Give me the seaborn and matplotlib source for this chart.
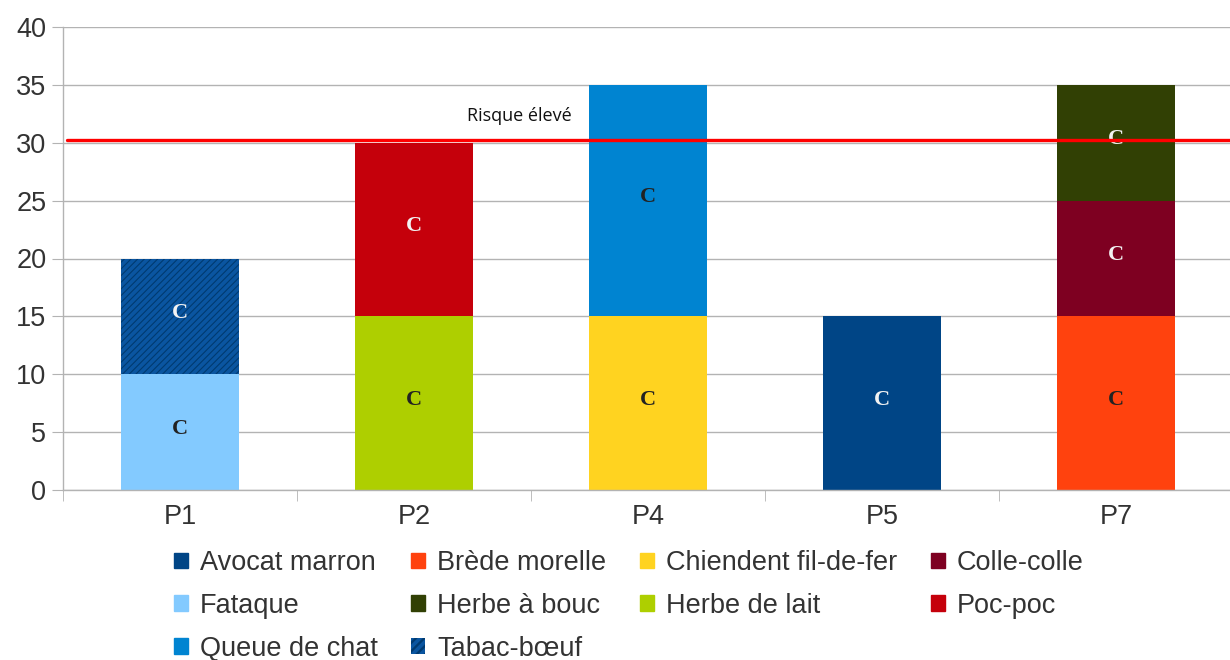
import pandas as pd
import matplotlib.pyplot as plt
import seaborn as sns
from matplotlib.patches import Patch

# categories and legend entries
plots = ['P1', 'P2', 'P4', 'P5', 'P7']
species = ['Avocat marron', 'Brède morelle', 'Chiendent fil-de-fer', 'Colle-colle',
           'Fataque', 'Herbe à bouc', 'Herbe de lait', 'Poc-poc',
           'Queue de chat', 'Tabac-bœuf']
species_colors = ['#004586', '#ff420e', '#ffd320', '#7e0021',
                  '#83caff', '#314004', '#aecf00', '#c5000b',
                  '#0084d1', '#003a70']

# stacked segments, listed bottom to top for each plot
seg_plot = ['P1', 'P1', 'P2', 'P2', 'P4', 'P4', 'P5', 'P7', 'P7', 'P7']
seg_species = ['Fataque', 'Tabac-bœuf', 'Herbe de lait', 'Poc-poc',
               'Chiendent fil-de-fer', 'Queue de chat', 'Avocat marron',
               'Brède morelle', 'Colle-colle', 'Herbe à bouc']
seg_value = [10, 10, 15, 15, 15, 20, 15, 15, 10, 10]
seg_label = ['C'] * 10

threshold = 30.2
threshold_label = 'Risque élevé'

dark_species = {'Tabac-bœuf', 'Poc-poc', 'Avocat marron', 'Colle-colle', 'Herbe à bouc'}
color_map = dict(zip(species, species_colors))

df = pd.DataFrame({'plot': seg_plot, 'species': seg_species, 'value': seg_value, 'label': seg_label})
df['bottom'] = df.groupby('plot')['value'].cumsum() - df['value']
df['top'] = df['bottom'] + df['value']
df['level'] = df.groupby('plot').cumcount()

sns.set_style('white')
plt.rcParams['font.family'] = ['Liberation Sans', 'DejaVu Sans']
plt.rcParams['hatch.linewidth'] = 2.6

fig = plt.figure(figsize=(12.3, 6.6), dpi=100)
ax = fig.add_axes([63 / 1230, 1 - 490 / 660, 1170 / 1230, 463 / 660])

# draw cumulative tops, highest layer first, so lower layers cover them
for _, row in df.sort_values('level', ascending=False).iterrows():
    kws = dict(edgecolor=color_map[row['species']], linewidth=0)
    if row['species'] == 'Tabac-bœuf':
        kws = dict(edgecolor='#0a55a0', linewidth=0, hatch='/////')
    sns.barplot(data=row.to_frame().T, x='plot', y='top', order=plots,
                color=color_map[row['species']], saturation=1, width=0.505,
                errorbar=None, ax=ax, zorder=2, **kws)

for _, row in df.iterrows():
    xi = plots.index(row['plot'])
    tc = '#f2f2f2' if row['species'] in dark_species else '#222222'
    ax.text(xi, row['bottom'] + row['value'] / 2 + 0.3, row['label'], ha='center', va='center',
            fontsize=16, fontweight='bold', family='Liberation Serif', color=tc, zorder=4)

ax.axhline(threshold, color='#ff0000', linewidth=2.4, zorder=5, xmin=0.003)
ax.text(1.45, 32.3, threshold_label, ha='center', va='center', fontsize=13,
        family='Open Sans', color='#111111', zorder=5)

ax.set_xlim(-0.5, 4.5)
ax.set_ylim(0, 40)
ax.set_yticks(range(0, 41, 5))
ax.set_xticks(range(len(plots)))
ax.set_xticklabels(plots)
ax.set_xticks([-0.5, 0.5, 1.5, 2.5, 3.5], minor=True)
ax.set_xlabel('')
ax.set_ylabel('')
ax.yaxis.grid(True, color='#b3b3b3', linewidth=1, zorder=0)
ax.set_axisbelow(True)
for s in ['top', 'right']:
    ax.spines[s].set_visible(False)
for s in ['left', 'bottom']:
    ax.spines[s].set_color('#b3b3b3')
    ax.spines[s].set_linewidth(1)
ax.tick_params(axis='y', which='major', length=8, color='#b3b3b3', labelsize=19.5,
               labelcolor='#333333', pad=4, left=True)
ax.tick_params(axis='x', which='major', length=0, labelsize=19.5, labelcolor='#333333', pad=10)
ax.tick_params(axis='x', which='minor', length=8, color='#b3b3b3', bottom=True)

# legend, reordered so entries read row by row across 4 columns
handles = {}
for name, col in zip(species, species_colors):
    if name == 'Tabac-bœuf':
        handles[name] = Patch(facecolor=col, edgecolor='#0a55a0', linewidth=0, hatch='////', label=name)
    else:
        handles[name] = Patch(facecolor=col, edgecolor=col, label=name)
ncol = 4
nrow = -(-len(species) // ncol)
order = []
for c in range(ncol):
    for r in range(nrow):
        i = r * ncol + c
        if i < len(species):
            order.append(species[i])
fig.legend(handles=[handles[n] for n in order], loc='upper left',
           bbox_to_anchor=(174 / 1230, 1 - 550 / 660), ncol=ncol, frameon=False,
           fontsize=19.5, handlelength=0.5, handleheight=0.5, handletextpad=0.45,
           columnspacing=1.25, labelspacing=0.62, borderaxespad=0, borderpad=0,
           labelcolor='#333333')

fig.savefig('out.png', dpi=100)
